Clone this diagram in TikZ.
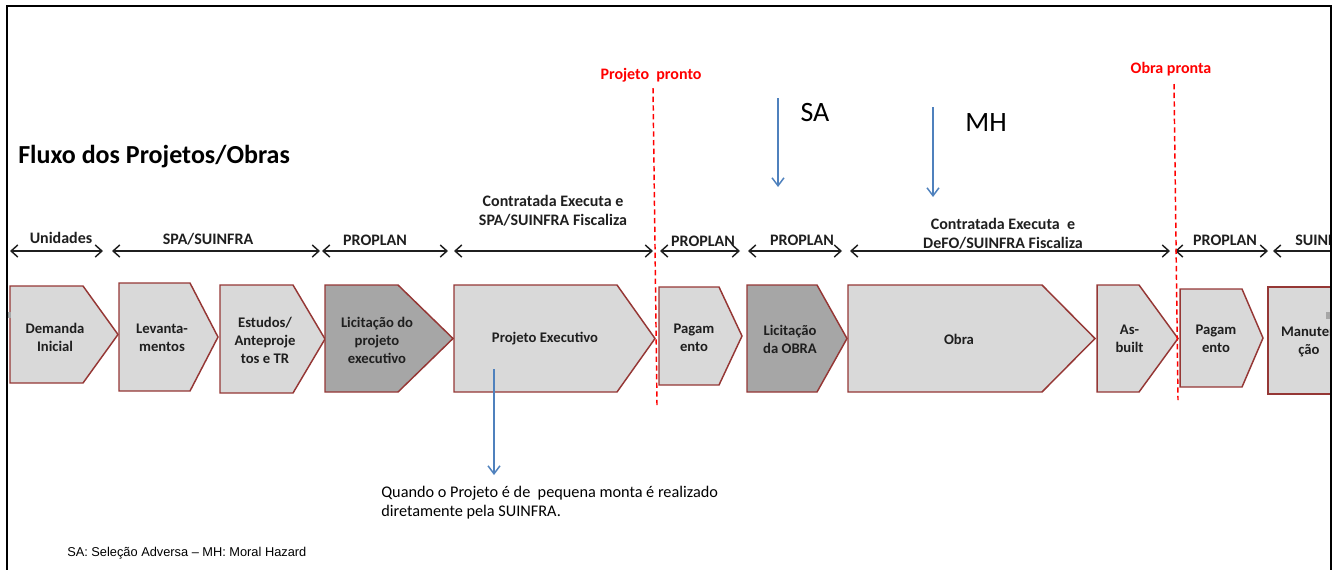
\documentclass[tikz,border=0pt]{standalone}
\usepackage{fontspec}
\setmainfont{Carlito}
\newfontfamily\arialfont{Liberation Sans}
\usetikzlibrary{arrows.meta}

\definecolor{boxfill}{HTML}{D9D9D9}
\definecolor{boxdark}{HTML}{A6A6A6}
\definecolor{boxedge}{HTML}{953735}
\definecolor{flowblue}{HTML}{4F81BD}
\definecolor{markred}{HTML}{FF0000}
\definecolor{inkdark}{HTML}{1F1F1F}

% pentagon stage: style, left x, shoulder x, tip x, top y, bottom y
\newcommand\stagepath[6]{%
  \path[#1] (#2,#5) -- (#3,#5) -- (#4,{(#5+#6)/2}) -- (#3,#6) -- (#2,#6) -- cycle;}

\begin{document}
\begin{tikzpicture}[x=0.75pt,y=-0.75pt,
  stage/.style={draw=boxedge,line width=1.1pt,fill=boxfill,line join=miter},
  stagedark/.style={stage,fill=boxdark},
  stagetext/.style={font=\fontsize{11}{13.5}\selectfont\bfseries,align=center,inner sep=0pt,text=inkdark},
  span/.style={draw=inkdark,line width=1.1pt,
    {Straight Barb[length=5pt,width=9pt]}-{Straight Barb[length=5pt,width=9pt]}},
  spanlabel/.style={font=\fontsize{12}{14}\selectfont\bfseries,align=center,inner sep=0pt,text=inkdark},
  milestone/.style={draw=markred,line width=1.1pt,dash pattern=on 4pt off 2.5pt},
  milestonelabel/.style={font=\fontsize{12}{14}\selectfont\bfseries,text=markred,inner sep=0pt},
  hazard/.style={draw=flowblue,line width=1.1pt,-{Straight Barb[length=6pt,width=9pt]}},
  hazardlabel/.style={font=\fontsize{21}{24}\selectfont,inner sep=0pt}
]
\useasboundingbox (0,0) rectangle (1341,569);

\begin{scope}
\clip (8,0) rectangle (1330,569);

% title
\node[anchor=base west,inner sep=0pt,font=\fontsize{19.5}{22}\selectfont\bfseries] (title) at (18,163) {Fluxo dos Projetos/Obras};

% process stages
\stagepath{stage}{10}{83}{118}{286}{383}
\stagepath{stage}{119}{190}{218}{283}{391}
\stagepath{stage}{220}{293}{325}{285}{393}
\stagepath{stagedark}{325}{398}{453}{285}{392}
\stagepath{stage}{454}{617}{655}{285}{392}
\stagepath{stage}{659}{719}{742}{287}{385}
\stagepath{stagedark}{747}{817}{847}{285}{392}
\stagepath{stage}{848}{1042}{1095}{285}{392}
\stagepath{stage}{1097}{1139}{1178}{285}{392}
\stagepath{stage}{1180}{1242}{1263}{289}{387}
\path[stage] (1268,287) rectangle (1400,394);

\node[stagetext] (demanda) at (55,337) {Demanda\\Inicial};
\node[stagetext] (levant) at (162,338) {Levanta-\\mentos};
\node[stagetext] (estudos) at (265,340) {Estudos/\\Anteproje\\tos e TR};
\node[stagetext] (licproj) at (377,340) {Licitação do\\projeto\\executivo};
\node[stagetext] (projexec) at (545,339) {Projeto Executivo};
\node[stagetext] (pagA) at (694,337.5) {Pagam\\ento};
\node[stagetext] (licobra) at (790,339.5) {Licitação\\da OBRA};
\node[stagetext] (obra) at (959,339) {Obra};
\node[stagetext] (asbuilt) at (1129.5,339) {As-\\built};
\node[stagetext] (pagB) at (1216,339) {Pagam\\ento};
\node[stagetext] (manut) at (1309,341.5) {Manuten\\ção};

% responsibility spans
\coordinate (s1a) at (10,251);   \coordinate (s1b) at (103,251);
\coordinate (s2a) at (112,251);  \coordinate (s2b) at (320,251);
\coordinate (s3a) at (322,251);  \coordinate (s3b) at (448,251);
\coordinate (s4a) at (454,251);  \coordinate (s4b) at (653,251);
\coordinate (s5a) at (660,251);  \coordinate (s5b) at (740,251);
\coordinate (s6a) at (748,251);  \coordinate (s6b) at (842,251);
\coordinate (s7a) at (850,251);  \coordinate (s7b) at (1170,251);
\coordinate (s8a) at (1175,251); \coordinate (s8b) at (1268,251);
\coordinate (s9a) at (1273,251); \coordinate (s9b) at (1420,251);
\foreach \i in {1,...,9} \draw[span] (s\i a) -- (s\i b);

\node[spanlabel] (lab1) at (61,238) {Unidades};
\node[spanlabel] (lab2) at (208,239) {SPA/SUINFRA};
\node[spanlabel] (lab3) at (375,240) {PROPLAN};
\node[spanlabel] (lab4) at (553,211) {Contratada Executa e\\SPA/SUINFRA Fiscaliza};
\node[spanlabel] (lab5) at (703,241) {PROPLAN};
\node[spanlabel] (lab6) at (802,240) {PROPLAN};
\node[spanlabel] (lab7) at (1003,234) {Contratada Executa~ e\\DeFO/SUINFRA Fiscaliza};
\node[spanlabel] (lab8) at (1225,240) {PROPLAN};
\node[spanlabel,anchor=west] (lab9) at (1295,240) {SUINFRA};

% milestones
\node[milestonelabel] (projpronto) at (651,75) {Projeto~ pronto};
\coordinate (m1a) at (653,88);  \coordinate (m1b) at (657,405);
\draw[milestone] (m1a) -- (m1b);
\node[milestonelabel] (obrapronta) at (1171,69) {Obra pronta};
\coordinate (m2a) at (1174,84); \coordinate (m2b) at (1178,400);
\draw[milestone] (m2a) -- (m2b);

% adverse selection / moral hazard markers
\coordinate (saTop) at (778,98);  \coordinate (saEnd) at (778,187);
\draw[hazard] (saTop) -- (saEnd);
\node[hazardlabel] (sa) at (815,113) {SA};
\coordinate (mhTop) at (933,107); \coordinate (mhEnd) at (933,197);
\draw[hazard] (mhTop) -- (mhEnd);
\node[hazardlabel] (mh) at (986,123) {MH};

% note on small projects
\node[anchor=north west,align=left,inner sep=0pt,font=\fontsize{12.2}{14.2}\selectfont] (note) at (381,486)
  {Quando o Projeto é de~ pequena monta é realizado\\diretamente pela SUINFRA.};
\coordinate (peFoot) at (494,369);
\coordinate (noteTop) at (494,475);
\draw[hazard] (peFoot) -- (noteTop);

% legend
\node[anchor=west,inner sep=0pt,font=\arialfont\fontsize{9.6}{11}\selectfont] (legend) at (67,553)
  {SA: Seleção Adversa – MH: Moral Hazard};

% selection handles
\fill[gray!70] (7,312) rectangle (10.5,318);
\fill[gray!70] (1326,312) rectangle (1330,319);
\end{scope}

% frame
\draw[line width=1.5pt] (7,575) -- (7,6) -- (1331,6);
\draw[line width=2.2pt] (1331,5) -- (1331,575);
\end{tikzpicture}
\end{document}
